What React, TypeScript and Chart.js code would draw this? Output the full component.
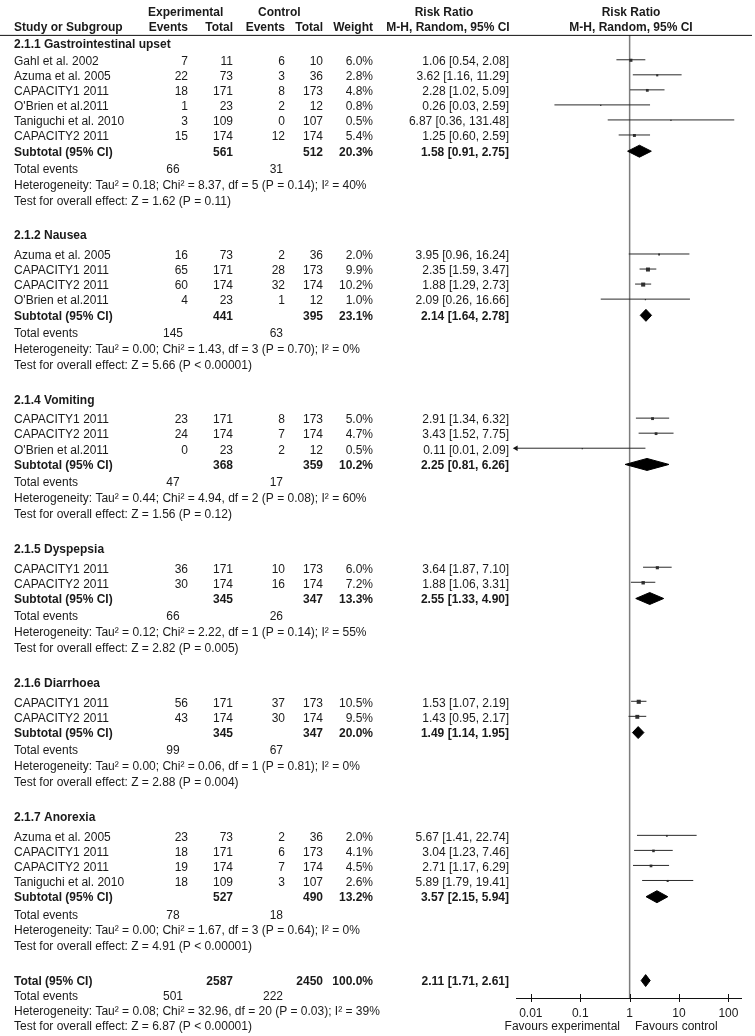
import React, { useEffect, useRef } from "react";
import { Chart, registerables } from "chart.js";

Chart.register(...registerables);

// ---------------- data ----------------
const groupNames = [
  "2.1.1 Gastrointestinal upset",
  "2.1.2 Nausea",
  "2.1.4 Vomiting",
  "2.1.5 Dyspepsia",
  "2.1.6 Diarrhoea",
  "2.1.7 Anorexia",
];

const studyGroup = [0, 0, 0, 0, 0, 0, 1, 1, 1, 1, 2, 2, 2, 3, 3, 4, 4, 5, 5, 5, 5];
const studyNames = [
  "Gahl et al. 2002", "Azuma et al. 2005", "CAPACITY1 2011", "O'Brien et al.2011", "Taniguchi et al. 2010", "CAPACITY2 2011",
  "Azuma et al. 2005", "CAPACITY1 2011", "CAPACITY2 2011", "O'Brien et al.2011",
  "CAPACITY1 2011", "CAPACITY2 2011", "O'Brien et al.2011",
  "CAPACITY1 2011", "CAPACITY2 2011",
  "CAPACITY1 2011", "CAPACITY2 2011",
  "Azuma et al. 2005", "CAPACITY1 2011", "CAPACITY2 2011", "Taniguchi et al. 2010",
];
const expEvents = [7, 22, 18, 1, 3, 15, 16, 65, 60, 4, 23, 24, 0, 36, 30, 56, 43, 23, 18, 19, 18];
const expTotal = [11, 73, 171, 23, 109, 174, 73, 171, 174, 23, 171, 174, 23, 171, 174, 171, 174, 73, 171, 174, 109];
const ctlEvents = [6, 3, 8, 2, 0, 12, 2, 28, 32, 1, 8, 7, 2, 10, 16, 37, 30, 2, 6, 7, 3];
const ctlTotal = [10, 36, 173, 12, 107, 174, 36, 173, 174, 12, 173, 174, 12, 173, 174, 173, 174, 36, 173, 174, 107];
const weights = [6.0, 2.8, 4.8, 0.8, 0.5, 5.4, 2.0, 9.9, 10.2, 1.0, 5.0, 4.7, 0.5, 6.0, 7.2, 10.5, 9.5, 2.0, 4.1, 4.5, 2.6];
const riskRatio = [1.06, 3.62, 2.28, 0.26, 6.87, 1.25, 3.95, 2.35, 1.88, 2.09, 2.91, 3.43, 0.11, 3.64, 1.88, 1.53, 1.43, 5.67, 3.04, 2.71, 5.89];
const ciLow = [0.54, 1.16, 1.02, 0.03, 0.36, 0.6, 0.96, 1.59, 1.29, 0.26, 1.34, 1.52, 0.01, 1.87, 1.06, 1.07, 0.95, 1.41, 1.23, 1.17, 1.79];
const ciHigh = [2.08, 11.29, 5.09, 2.59, 131.48, 2.59, 16.24, 3.47, 2.73, 16.66, 6.32, 7.75, 2.09, 7.1, 3.31, 2.19, 2.17, 22.74, 7.46, 6.29, 19.41];

const groupExpTotal = [561, 441, 368, 345, 345, 527];
const groupCtlTotal = [512, 395, 359, 347, 347, 490];
const groupWeight = [20.3, 23.1, 10.2, 13.3, 20.0, 13.2];
const groupRR = [1.58, 2.14, 2.25, 2.55, 1.49, 3.57];
const groupLow = [0.91, 1.64, 0.81, 1.33, 1.14, 2.15];
const groupHigh = [2.75, 2.78, 6.26, 4.9, 1.95, 5.94];
const groupExpEvents = [66, 145, 47, 66, 99, 78];
const groupCtlEvents = [31, 63, 17, 26, 67, 18];
const groupHet = [
  "Tau² = 0.18; Chi² = 8.37, df = 5 (P = 0.14); I² = 40%",
  "Tau² = 0.00; Chi² = 1.43, df = 3 (P = 0.70); I² = 0%",
  "Tau² = 0.44; Chi² = 4.94, df = 2 (P = 0.08); I² = 60%",
  "Tau² = 0.12; Chi² = 2.22, df = 1 (P = 0.14); I² = 55%",
  "Tau² = 0.00; Chi² = 0.06, df = 1 (P = 0.81); I² = 0%",
  "Tau² = 0.00; Chi² = 1.67, df = 3 (P = 0.64); I² = 0%",
];
const groupTest = [
  "Z = 1.62 (P = 0.11)",
  "Z = 5.66 (P < 0.00001)",
  "Z = 1.56 (P = 0.12)",
  "Z = 2.82 (P = 0.005)",
  "Z = 2.88 (P = 0.004)",
  "Z = 4.91 (P < 0.00001)",
];

const overallExpTotal = 2587;
const overallCtlTotal = 2450;
const overallWeight = 100.0;
const overallRR = 2.11;
const overallLow = 1.71;
const overallHigh = 2.61;
const overallExpEvents = 501;
const overallCtlEvents = 222;
const overallHet = "Tau² = 0.08; Chi² = 32.96, df = 20 (P = 0.03); I² = 39%";
const overallTest = "Z = 6.87 (P < 0.00001)";

const tickValues = [0.01, 0.1, 1, 10, 100];
const tickLabels = ["0.01", "0.1", "1", "10", "100"];

// ---------------- layout / style ----------------
const W = 755;
const H = 1036;
const FONT = "'Liberation Sans', Arial, Helvetica, sans-serif";
const TEXT = "#1a1a1a";
const X_MIN = 0.005;
const X_MAX = 180;
const PLOT_LEFT = 516;
const PLOT_RIGHT_PAD = 14;
const AXIS_Y = 998;
const HEADER_Y1 = 8.5;
const HEADER_Y2 = 24;
const RULE_Y = 31;
const LINE_SHIFT = -2;
const DIAMOND_SHIFT = -1;
const DIAMOND_HALF = 6;

// vertical spacing between successive kinds of rows
const FIRST_SECTION_Y = 41;
const FIRST_STUDY_GAP = 17;
const SECTION_TO_STUDY = 20;
const STUDY_STEP = 15.1;
const STUDY_TO_SUBTOTAL = 15.3;
const SUBTOTAL_TO_EVENTS = 17.6;
const EVENTS_TO_HET = 16;
const HET_TO_TEST = 16;
const TEST_TO_SECTION = 34.6;
const TOTAL_TO_EVENTS = 15.5;
const TOTAL_LINE_STEP = 15;

const COL_NAME = 14;
const COL_EXP_EV = 188;
const COL_EXP_TOT = 233;
const COL_CTL_EV = 285;
const COL_CTL_TOT = 323;
const COL_WEIGHT = 373;
const COL_RR = 509;
const COL_TE_EXP = 173;
const COL_TE_CTL = 283;

type Row = { kind: string; y: number; ref: number };

function buildRows(): Row[] {
  const rows: Row[] = [];
  let y = FIRST_SECTION_Y;
  groupNames.forEach((_, gi) => {
    rows.push({ kind: "section", y, ref: gi });
    let first = true;
    studyGroup.forEach((sg, si) => {
      if (sg !== gi) return;
      y += first ? (gi === 0 ? FIRST_STUDY_GAP : SECTION_TO_STUDY) : STUDY_STEP;
      first = false;
      rows.push({ kind: "study", y, ref: si });
    });
    y += STUDY_TO_SUBTOTAL;
    rows.push({ kind: "subtotal", y, ref: gi });
    y += SUBTOTAL_TO_EVENTS;
    rows.push({ kind: "events", y, ref: gi });
    y += EVENTS_TO_HET;
    rows.push({ kind: "het", y, ref: gi });
    y += HET_TO_TEST;
    rows.push({ kind: "test", y, ref: gi });
    y += TEST_TO_SECTION;
  });
  rows.push({ kind: "total", y, ref: -1 });
  y += TOTAL_TO_EVENTS;
  rows.push({ kind: "events", y, ref: -1 });
  y += TOTAL_LINE_STEP;
  rows.push({ kind: "het", y, ref: -1 });
  y += TOTAL_LINE_STEP;
  rows.push({ kind: "test", y, ref: -1 });
  return rows;
}

const fmt2 = (v: number) => v.toFixed(2);
const ciText = (rr: number, lo: number, hi: number) => `${fmt2(rr)} [${fmt2(lo)}, ${fmt2(hi)}]`;
const pct = (w: number) => `${w.toFixed(1)}%`;

function diamond(rr: number, lo: number, hi: number, y: number) {
  return {
    type: "line",
    data: [
      { x: lo, y },
      { x: rr, y: y - DIAMOND_HALF },
      { x: hi, y },
      { x: rr, y: y + DIAMOND_HALF },
      { x: lo, y },
    ],
    showLine: true,
    fill: "shape",
    backgroundColor: "#000",
    borderColor: "#000",
    borderWidth: 1,
    pointRadius: 0,
    tension: 0,
    clip: false,
  };
}

export default function App() {
  const ref = useRef<HTMLCanvasElement | null>(null);

  useEffect(() => {
    document.body.style.margin = "0";
    const canvas = ref.current;
    if (!canvas) return;
    const rows = buildRows();
    const studyRows = rows.filter((r) => r.kind === "study");
    const datasets: any[] = [];

    studyRows.forEach((r) => {
      const i = r.ref;
      const y = r.y + LINE_SHIFT;
      const clipped = ciLow[i] <= tickValues[0];
      datasets.push({
        type: "line",
        data: [
          { x: clipped ? X_MIN : ciLow[i], y },
          { x: ciHigh[i], y },
        ],
        showLine: true,
        borderColor: "#2a2a2a",
        borderWidth: 1,
        pointRadius: 0,
        fill: false,
        clip: false,
      });
      if (clipped) {
        datasets.push({
          type: "line",
          data: [{ x: X_MIN, y }],
          showLine: false,
          pointStyle: "triangle",
          rotation: -90,
          pointRadius: 3.2,
          backgroundColor: "#111",
          borderColor: "#111",
          borderWidth: 0,
          clip: false,
        });
      }
    });

    datasets.push({
      type: "line",
      data: studyRows.map((r) => ({ x: riskRatio[r.ref], y: r.y + LINE_SHIFT + 0.5 })),
      showLine: false,
      pointStyle: "rect",
      pointRadius: studyRows.map((r) => Math.max(0.9, Math.sqrt(weights[r.ref]) * 0.9)),
      backgroundColor: "#333",
      borderColor: "#333",
      borderWidth: 0,
      clip: false,
    });

    rows.forEach((r) => {
      if (r.kind === "subtotal") {
        const g = r.ref;
        datasets.push(diamond(groupRR[g], groupLow[g], groupHigh[g], r.y + DIAMOND_SHIFT));
      } else if (r.kind === "total") {
        datasets.push(diamond(overallRR, overallLow, overallHigh, r.y + DIAMOND_SHIFT));
      }
    });

    const decor = {
      id: "forestDecor",
      beforeDatasetsDraw(chart: any) {
        const ctx = chart.ctx;
        const xs = chart.scales.x;
        const ys = chart.scales.y;
        const x1 = xs.getPixelForValue(1);
        ctx.save();
        ctx.strokeStyle = "#7d7d7d";
        ctx.lineWidth = 1.5;
        ctx.beginPath();
        ctx.moveTo(x1, ys.getPixelForValue(RULE_Y));
        ctx.lineTo(x1, chart.chartArea.bottom);
        ctx.stroke();
        ctx.restore();
      },
      afterDraw(chart: any) {
        const ctx = chart.ctx;
        const xs = chart.scales.x;
        const ys = chart.scales.y;
        const py = (v: number) => ys.getPixelForValue(v);
        const t = (s: string, x: number, y: number, align: CanvasTextAlign, bold = false) => {
          ctx.font = `${bold ? "bold " : ""}12px ${FONT}`;
          ctx.textAlign = align;
          ctx.fillText(s, x, y);
        };
        ctx.save();
        ctx.fillStyle = TEXT;
        ctx.textBaseline = "middle";

        // header
        t("Experimental", 148, py(HEADER_Y1), "left", true);
        t("Control", 258, py(HEADER_Y1), "left", true);
        t("Risk Ratio", 444, py(HEADER_Y1), "center", true);
        t("Risk Ratio", 631, py(HEADER_Y1), "center", true);
        t("Study or Subgroup", COL_NAME, py(HEADER_Y2), "left", true);
        t("Events", COL_EXP_EV, py(HEADER_Y2), "right", true);
        t("Total", COL_EXP_TOT, py(HEADER_Y2), "right", true);
        t("Events", COL_CTL_EV, py(HEADER_Y2), "right", true);
        t("Total", COL_CTL_TOT, py(HEADER_Y2), "right", true);
        t("Weight", COL_WEIGHT, py(HEADER_Y2), "right", true);
        t("M-H, Random, 95% CI", 448, py(HEADER_Y2), "center", true);
        t("M-H, Random, 95% CI", 631, py(HEADER_Y2), "center", true);

        ctx.strokeStyle = "#111";
        ctx.lineWidth = 1;
        ctx.beginPath();
        ctx.moveTo(0, py(RULE_Y) + 0.5);
        ctx.lineTo(752, py(RULE_Y) + 0.5);
        ctx.stroke();

        rows.forEach((r) => {
          const y = py(r.y);
          const g = r.ref;
          if (r.kind === "section") {
            t(groupNames[g], COL_NAME, y, "left", true);
          } else if (r.kind === "study") {
            const i = r.ref;
            t(studyNames[i], COL_NAME, y, "left");
            t(String(expEvents[i]), COL_EXP_EV, y, "right");
            t(String(expTotal[i]), COL_EXP_TOT, y, "right");
            t(String(ctlEvents[i]), COL_CTL_EV, y, "right");
            t(String(ctlTotal[i]), COL_CTL_TOT, y, "right");
            t(pct(weights[i]), COL_WEIGHT, y, "right");
            t(ciText(riskRatio[i], ciLow[i], ciHigh[i]), COL_RR, y, "right");
          } else if (r.kind === "subtotal") {
            t("Subtotal (95% CI)", COL_NAME, y, "left", true);
            t(String(groupExpTotal[g]), COL_EXP_TOT, y, "right", true);
            t(String(groupCtlTotal[g]), COL_CTL_TOT, y, "right", true);
            t(pct(groupWeight[g]), COL_WEIGHT, y, "right", true);
            t(ciText(groupRR[g], groupLow[g], groupHigh[g]), COL_RR, y, "right", true);
          } else if (r.kind === "total") {
            t("Total (95% CI)", COL_NAME, y, "left", true);
            t(String(overallExpTotal), COL_EXP_TOT, y, "right", true);
            t(String(overallCtlTotal), COL_CTL_TOT, y, "right", true);
            t(pct(overallWeight), COL_WEIGHT, y, "right", true);
            t(ciText(overallRR, overallLow, overallHigh), COL_RR, y, "right", true);
          } else if (r.kind === "events") {
            t("Total events", COL_NAME, y, "left");
            t(String(g < 0 ? overallExpEvents : groupExpEvents[g]), COL_TE_EXP, y, "center");
            t(String(g < 0 ? overallCtlEvents : groupCtlEvents[g]), COL_TE_CTL, y, "right");
          } else if (r.kind === "het") {
            t("Heterogeneity: " + (g < 0 ? overallHet : groupHet[g]), COL_NAME, y, "left");
          } else if (r.kind === "test") {
            t("Test for overall effect: " + (g < 0 ? overallTest : groupTest[g]), COL_NAME, y, "left");
          }
        });

        // axis tick marks crossing the axis
        const ab = chart.chartArea.bottom;
        ctx.strokeStyle = "#111";
        ctx.lineWidth = 1;
        xs.ticks.forEach((tk: any) => {
          const px = Math.round(xs.getPixelForValue(tk.value)) + 0.5;
          ctx.beginPath();
          ctx.moveTo(px, ab - 4);
          ctx.lineTo(px, ab + 4);
          ctx.stroke();
        });

        const favY = ab + 29;
        t("Favours experimental", 620, favY, "right");
        t("Favours control", 635, favY, "left");
        ctx.restore();
      },
    };

    const chart = new Chart(canvas, {
      type: "line",
      data: { datasets },
      options: {
        animation: false,
        responsive: true,
        maintainAspectRatio: false,
        events: [],
        layout: { padding: { left: PLOT_LEFT, right: PLOT_RIGHT_PAD, top: 0, bottom: 0 } },
        plugins: { legend: { display: false }, tooltip: { enabled: false } },
        scales: {
          x: {
            type: "logarithmic",
            position: "bottom",
            min: X_MIN,
            max: X_MAX,
            afterBuildTicks: (s: any) => {
              s.ticks = tickValues.map((v) => ({ value: v }));
            },
            afterFit: (s: any) => {
              s.height = H - AXIS_Y;
            },
            ticks: {
              autoSkip: false,
              maxRotation: 0,
              padding: 8,
              color: TEXT,
              font: { size: 12, family: FONT },
              callback: (_v: any, i: number) => tickLabels[i],
            },
            grid: { display: false, drawTicks: false },
            border: { display: true, color: "#111", width: 1 },
          },
          y: { type: "linear", min: 0, max: AXIS_Y, reverse: true, display: false },
        },
      } as any,
      plugins: [decor],
    } as any);

    return () => chart.destroy();
  }, []);

  return (
    <div style={{ position: "relative", width: W, height: H, background: "#fff" }}>
      <canvas ref={ref} />
    </div>
  );
}
